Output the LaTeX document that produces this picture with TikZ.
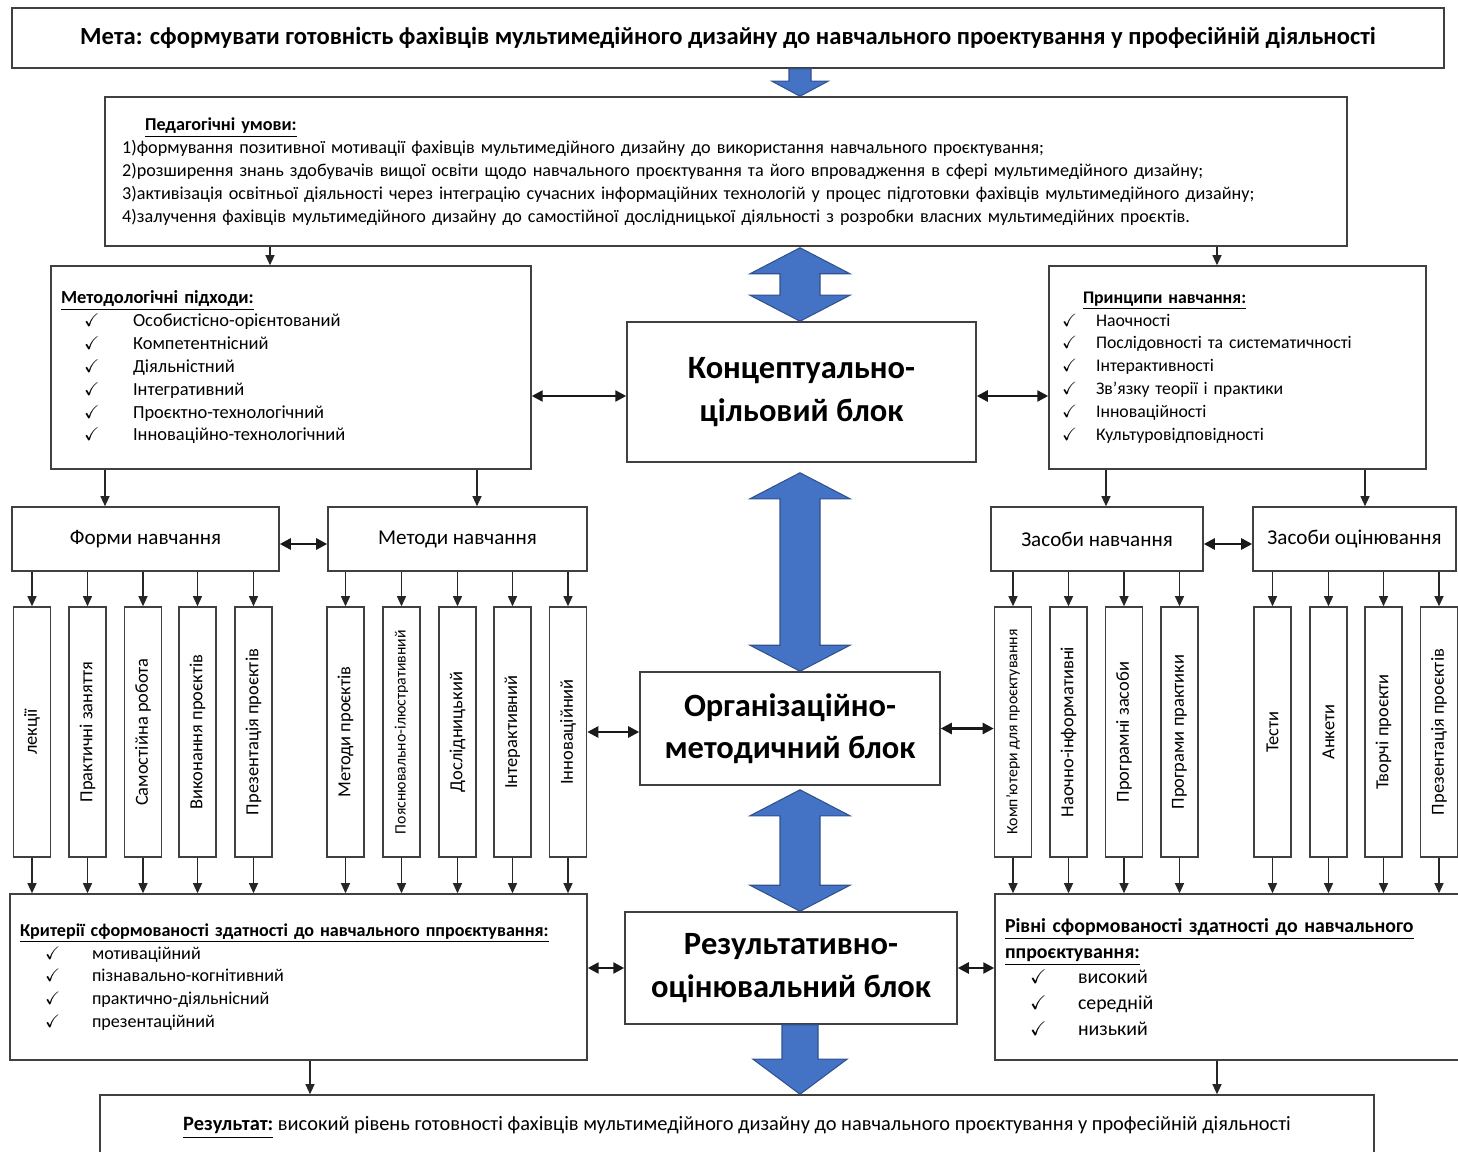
\documentclass[tikz,border=0pt]{standalone}
\usepackage{fontspec}
\setmainfont{Carlito}
\usepackage{amssymb}
\usepackage{tikz}
\usetikzlibrary{arrows.meta}

\definecolor{arrblue}{HTML}{4472C4}
\definecolor{arrline}{HTML}{2F528F}

% check-mark item: indent, mark width, text
\newcommand{\chkitem}[3]{\hspace*{#1}\makebox[#2][l]{$\checkmark$}#3}
% big blue arrows
\newcommand{\bluedbl}[2]{%
  \draw[bigarr] (#1) -- ([shift={(50,26)}]#1) -- ([shift={(20,26)}]#1) -- ([shift={(20,-26)}]#2) -- ([shift={(50,-26)}]#2) -- (#2)
    -- ([shift={(-50,-26)}]#2) -- ([shift={(-20,-26)}]#2) -- ([shift={(-20,26)}]#1) -- ([shift={(-50,26)}]#1) -- cycle;}
\newcommand{\bluedown}[5]{%
  \draw[bigarr] ([shift={(-#3,0)}]#1) -- ([shift={(#3,0)}]#1) -- ([shift={(#3,-#5)}]#2) -- ([shift={(#4,-#5)}]#2) -- (#2)
    -- ([shift={(-#4,-#5)}]#2) -- ([shift={(-#3,-#5)}]#2) -- cycle;}

\begin{document}
\begin{tikzpicture}[x=0.02cm, y=-0.02cm,
    box/.style={draw=black!75, line width=0.9pt, fill=white, align=center, inner sep=0pt},
    listbox/.style={box, align=left, inner xsep=0.2cm, inner ysep=0pt},
    blk/.style={box, font=\fontsize{18.5}{24}\selectfont\bfseries},
    header/.style={box, minimum height=1.28cm, font=\fontsize{12}{14}\selectfont},
    vbox/.style={box, rotate=90, minimum width=5cm, minimum height=0.74cm, font=\fontsize{#1}{12}\selectfont},
    vbox/.default=10.5,
    arr/.style={-{Triangle[length=2mm, width=1.8mm]}, line width=0.6pt, black!85},
    darr/.style={{Triangle[length=2.2mm, width=2.2mm]}-{Triangle[length=2.2mm, width=2.2mm]}, line width=1.4pt, black!90},
    bigarr/.style={fill=arrblue, draw=arrline, line width=0.6pt}
]
\useasboundingbox (0,0) rectangle (1458,1152);

% Goal and conditions
\node[box, minimum width=28.64cm, minimum height=1.2cm, font=\fontsize{14}{16}\selectfont\bfseries] (meta) at (728,38) {Мета: сформувати готовність фахівців мультимедійного дизайну до навчального проектування у професійній діяльності};
\node[listbox, text width=24.16cm, inner xsep=0.34cm, minimum height=2.98cm, font=\fontsize{10.35}{13}\selectfont] (ped) at (726,171.5) {\hspace*{0.46cm}\underline{\textbf{Педагогічні умови:}}\\
1)формування позитивної мотивації фахівців мультимедійного дизайну до використання навчального проєктування;\\
2)розширення знань здобувачів вищої освіти щодо навчального проєктування та його впровадження в сфері мультимедійного дизайну;\\
3)активізація освітньої діяльності через інтеграцію сучасних інформаційних технологій у процес підготовки фахівців мультимедійного дизайну;\\
4)залучення фахівців мультимедійного дизайну до самостійної дослідницької діяльності з розробки власних мультимедійних проєктів.\\[3pt]};

% Central blocks
\node[blk, minimum width=6.98cm, minimum height=2.8cm] (konc) at (801.5,392) {Концептуально-\\цільовий блок};
\node[blk, minimum width=6cm, minimum height=2.26cm] (org) at (790,728.5) {Організаційно-\\методичний блок};
\node[blk, minimum width=6.64cm, minimum height=2.24cm] (res) at (791,968) {Результативно-\\оцінювальний блок};

% Approaches and principles
\node[listbox, text width=9.2cm, minimum height=4.06cm, font=\fontsize{10.5}{13}\selectfont] (metod) at (291,367.5) {\underline{\textbf{Методологічні підходи:}}\\
\chkitem{0.46cm}{0.98cm}{Особистісно-орієнтований}\\
\chkitem{0.46cm}{0.98cm}{Компетентнісний}\\
\chkitem{0.46cm}{0.98cm}{Діяльністний}\\
\chkitem{0.46cm}{0.98cm}{Інтегративний}\\
\chkitem{0.46cm}{0.98cm}{Проєктно-технологічний}\\
\chkitem{0.46cm}{0.98cm}{Інноваційно-технологічний}};
\node[listbox, text width=7.14cm, minimum height=4.06cm, font=\fontsize{10.1}{13}\selectfont] (princ) at (1237.5,367.5) {\hspace*{0.48cm}\underline{\textbf{Принципи навчання:}}\\
\chkitem{0.06cm}{0.68cm}{Наочності}\\
\chkitem{0.06cm}{0.68cm}{Послідовності та систематичності}\\
\chkitem{0.06cm}{0.68cm}{Інтерактивності}\\
\chkitem{0.06cm}{0.68cm}{Зв’язку теорії і практики}\\
\chkitem{0.06cm}{0.68cm}{Інноваційності}\\
\chkitem{0.06cm}{0.68cm}{Культуровідповідності}};

% Headers
\node[header, minimum width=5.34cm] (formy) at (145.5,539) {Форми навчання};
\node[header, minimum width=5.18cm] (metody) at (457.5,539) {Методи навчання};
\node[header, minimum width=4.24cm] (zasnav) at (1097,539) {Засоби навчання};
\node[header, minimum width=4.06cm] (zasoc) at (1354.5,539) {Засоби оцінювання};

% Vertical boxes
\node[vbox] (fm1) at (32,732) {лекції};
\node[vbox] (fm2) at (87.5,732) {Практичні заняття};
\node[vbox] (fm3) at (143,732) {Самостійна робота};
\node[vbox] (fm4) at (197.5,732) {Виконання проєктів};
\node[vbox] (fm5) at (253.5,732) {Презентація проєктів};
\node[vbox] (mt1) at (345.5,732) {Методи проєктів};
\node[vbox=9] (mt2) at (401.5,732) {Пояснювально-ілюстративний};
\node[vbox] (mt3) at (457.5,732) {Дослідницький};
\node[vbox] (mt4) at (512.5,732) {Інтерактивний};
\node[vbox] (mt5) at (568,732) {Інноваційний};
\node[vbox=9] (zn1) at (1013,732) {Комп’ютери для проєктування};
\node[vbox] (zn2) at (1068.5,732) {Наочно-інформативні};
\node[vbox] (zn3) at (1124,732) {Програмні засоби};
\node[vbox] (zn4) at (1179.5,732) {Програми практики};
\node[vbox] (zo1) at (1272.5,732) {Тести};
\node[vbox] (zo2) at (1328.5,732) {Анкети};
\node[vbox] (zo3) at (1383.5,732) {Творчі проєкти};
\node[vbox] (zo4) at (1439,732) {Презентація проєктів};

% Criteria and levels
\node[listbox, text width=11.14cm, minimum height=3.32cm, font=\fontsize{10.3}{13}\selectfont] (kryt) at (298.5,977) {\underline{\textbf{Критерії сформованості здатності до навчального ппроєктування:}}\\
\chkitem{0.5cm}{0.94cm}{мотиваційний}\\
\chkitem{0.5cm}{0.94cm}{пізнавально-когнітивний}\\
\chkitem{0.5cm}{0.94cm}{практично-діяльнісний}\\
\chkitem{0.5cm}{0.94cm}{презентаційний}};
\node[listbox, text width=8.92cm, minimum height=3.32cm, font=\fontsize{11.3}{14.6}\selectfont] (rivni) at (1228,977) {\underline{\textbf{Рівні сформованості здатності до навчального}}\\
\underline{\textbf{ппроєктування:}}\\
\chkitem{0.5cm}{0.96cm}{високий}\\
\chkitem{0.5cm}{0.96cm}{середній}\\
\chkitem{0.5cm}{0.96cm}{низький}};

% Result
\node[box, minimum width=25.48cm, minimum height=1.3cm, font=\fontsize{11.6}{13}\selectfont] (result) at (737,1127.5) {\underline{\textbf{Результат:}} високий рівень готовності фахівців мультимедійного дизайну до навчального проєктування у професійній діяльності};

% Blue arrows
\path (meta.south -| 800,0) coordinate (g0) (ped.north -| 800,0) coordinate (g1);
\path (ped.south -| 800,0) ++(0,1) coordinate (b1) (konc.north -| 800,0) coordinate (b2);
\path (konc.south -| 800,0) ++(0,10) coordinate (b3) (org.north -| 800,0) coordinate (b4);
\path (org.south -| 800,0) ++(0,4) coordinate (b5) (res.north -| 800,0) coordinate (b6);
\path (res.south -| 800,0) coordinate (r0) (result.north -| 800,0) coordinate (r1);
\bluedown{g0}{g1}{11}{28}{15}
\bluedbl{b1}{b2}
\bluedbl{b3}{b4}
\bluedbl{b5}{b6}
\bluedown{r0}{r1}{18}{47}{35}

% Thin arrows
\draw[arr] (ped.south -| 270,0) -- (metod.north -| 270,0); \draw[arr] (ped.south -| 1217,0) -- (princ.north -| 1217,0);
\draw[arr] (metod.south -| 105,0) -- (formy.north -| 105,0); \draw[arr] (metod.south -| 477,0) -- (metody.north -| 477,0);
\draw[arr] (princ.south -| 1106,0) -- (zasnav.north -| 1106,0); \draw[arr] (princ.south -| 1365,0) -- (zasoc.north -| 1365,0);
\draw[arr] (kryt.south -| 310,0) -- (result.north -| 310,0); \draw[arr] (rivni.south -| 1217,0) -- (result.north -| 1217,0);

\draw[arr] (formy.south -| fm1.east) -- (fm1.east); \draw[arr] (formy.south -| fm2.east) -- (fm2.east); \draw[arr] (formy.south -| fm3.east) -- (fm3.east);
\draw[arr] (formy.south -| fm4.east) -- (fm4.east); \draw[arr] (formy.south -| fm5.east) -- (fm5.east);
\draw[arr] (metody.south -| mt1.east) -- (mt1.east); \draw[arr] (metody.south -| mt2.east) -- (mt2.east); \draw[arr] (metody.south -| mt3.east) -- (mt3.east);
\draw[arr] (metody.south -| mt4.east) -- (mt4.east); \draw[arr] (metody.south -| mt5.east) -- (mt5.east);
\draw[arr] (zasnav.south -| zn1.east) -- (zn1.east); \draw[arr] (zasnav.south -| zn2.east) -- (zn2.east);
\draw[arr] (zasnav.south -| zn3.east) -- (zn3.east); \draw[arr] (zasnav.south -| zn4.east) -- (zn4.east);
\draw[arr] (zasoc.south -| zo1.east) -- (zo1.east); \draw[arr] (zasoc.south -| zo2.east) -- (zo2.east);
\draw[arr] (zasoc.south -| zo3.east) -- (zo3.east); \draw[arr] (zasoc.south -| zo4.east) -- (zo4.east);

\draw[arr] (fm1.west) -- (fm1.west |- kryt.north); \draw[arr] (fm2.west) -- (fm2.west |- kryt.north); \draw[arr] (fm3.west) -- (fm3.west |- kryt.north);
\draw[arr] (fm4.west) -- (fm4.west |- kryt.north); \draw[arr] (fm5.west) -- (fm5.west |- kryt.north);
\draw[arr] (mt1.west) -- (mt1.west |- kryt.north); \draw[arr] (mt2.west) -- (mt2.west |- kryt.north); \draw[arr] (mt3.west) -- (mt3.west |- kryt.north);
\draw[arr] (mt4.west) -- (mt4.west |- kryt.north); \draw[arr] (mt5.west) -- (mt5.west |- kryt.north);
\draw[arr] (zn1.west) -- (zn1.west |- rivni.north); \draw[arr] (zn2.west) -- (zn2.west |- rivni.north);
\draw[arr] (zn3.west) -- (zn3.west |- rivni.north); \draw[arr] (zn4.west) -- (zn4.west |- rivni.north);
\draw[arr] (zo1.west) -- (zo1.west |- rivni.north); \draw[arr] (zo2.west) -- (zo2.west |- rivni.north);
\draw[arr] (zo3.west) -- (zo3.west |- rivni.north); \draw[arr] (zo4.west) -- (zo4.west |- rivni.north);

% Double arrows
\draw[darr] (metod.east |- 0,396) -- (konc.west |- 0,396); \draw[darr] (konc.east |- 0,396) -- (princ.west |- 0,396);
\draw[darr] (formy.east |- 0,544) -- (metody.west |- 0,544); \draw[darr] (zasnav.east |- 0,544) -- (zasoc.west |- 0,544);
\draw[darr] (mt5.south) -- (mt5.south -| org.west); \draw[darr] (org.east) -- (org.east -| zn1.north);
\draw[darr] (kryt.east |- res.west) -- (res.west); \draw[darr] (res.east) -- (res.east -| rivni.west);

\end{tikzpicture}
\end{document}
